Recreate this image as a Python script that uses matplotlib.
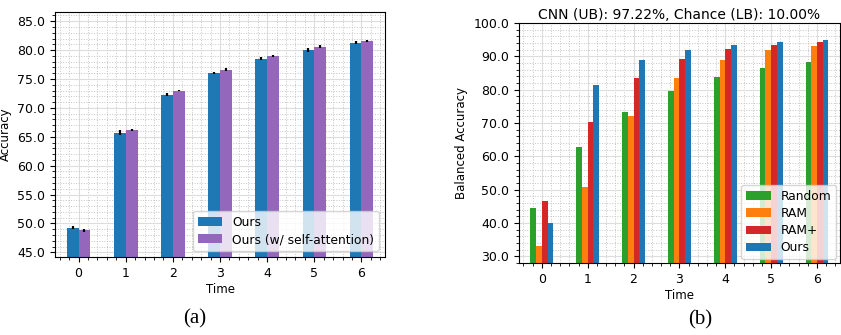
import matplotlib
matplotlib.use('Agg')
import matplotlib.pyplot as plt
import numpy as np
from matplotlib.ticker import MultipleLocator

plt.rcParams['font.family'] = 'DejaVu Sans'

# (a) data
times = [0, 1, 2, 3, 4, 5, 6]
acc_ours = [49.3, 65.7, 72.3, 76.1, 78.5, 80.1, 81.3]
acc_ours_err = [0.3, 0.4, 0.2, 0.2, 0.25, 0.35, 0.25]
acc_attn = [48.8, 66.2, 73.0, 76.6, 79.0, 80.6, 81.6]
acc_attn_err = [0.25, 0.2, 0.15, 0.25, 0.2, 0.3, 0.2]

# (b) data
bal_random = [44.4, 62.7, 73.2, 79.5, 83.7, 86.4, 88.2]
bal_ram = [33.0, 50.7, 72.0, 83.4, 89.0, 91.8, 93.0]
bal_ramplus = [46.5, 70.2, 83.4, 89.1, 92.1, 93.3, 94.2]
bal_ours = [39.9, 81.3, 88.8, 91.8, 93.3, 94.2, 94.8]
title_b = 'CNN (UB): 97.22%, Chance (LB): 10.00%'

fig = plt.figure(figsize=(8.41, 3.35), dpi=100)
ax1 = fig.add_axes([0.0654, 0.2328, 0.3924, 0.7313])
ax2 = fig.add_axes([0.617, 0.2149, 0.3817, 0.7164])

x = np.array(times)

# ax1
w = 0.25
ax1.bar(x - w / 2, acc_ours, w, yerr=acc_ours_err, color='tab:blue', label='Ours',
        error_kw=dict(ecolor='black', elinewidth=1.6, capsize=0))
ax1.bar(x + w / 2, acc_attn, w, yerr=acc_attn_err, color='tab:purple', label='Ours (w/ self-attention)',
        error_kw=dict(ecolor='black', elinewidth=1.6, capsize=0))
ax1.set_ylim(44.2, 86.6)
ax1.set_ylabel('Accuracy', fontsize=8.5)
ax1.yaxis.set_major_locator(MultipleLocator(5))
ax1.yaxis.set_minor_locator(MultipleLocator(1))
ax1.legend(loc='lower right', fontsize=8.8, labelspacing=0.35)

# ax2
w2 = 0.125
ax2.bar(x - 1.5 * w2, bal_random, w2, color='tab:green', label='Random')
ax2.bar(x - 0.5 * w2, bal_ram, w2, color='tab:orange', label='RAM')
ax2.bar(x + 0.5 * w2, bal_ramplus, w2, color='tab:red', label='RAM+')
ax2.bar(x + 1.5 * w2, bal_ours, w2, color='tab:blue', label='Ours')
ax2.set_ylim(28, 100)
ax2.set_ylabel('Balanced Accuracy', fontsize=8.5)
ax2.set_title(title_b, fontsize=10, pad=3)
ax2.yaxis.set_major_locator(MultipleLocator(10))
ax2.yaxis.set_minor_locator(MultipleLocator(2))
ax2.legend(loc='lower right', fontsize=8.8, borderaxespad=0.3, labelspacing=0.35)

for ax in (ax1, ax2):
    ax.set_xlim(-0.5, 6.5)
    ax.set_xticks(times)
    ax.xaxis.set_minor_locator(MultipleLocator(0.2))
    ax.set_xlabel('Time', fontsize=8.5, labelpad=2)
    ax.yaxis.set_major_formatter(matplotlib.ticker.FormatStrFormatter('%.1f'))
    ax.tick_params(labelsize=9)
    ax.grid(True, which='major', color='#dddddd', linestyle='-', linewidth=0.8)
    ax.grid(True, which='minor', color='#c4c4c4', linestyle=':', linewidth=0.7)
    ax.set_axisbelow(True)

fig.text(0.232, 0.035, '(a)', fontsize=15, family='Liberation Serif', ha='center')
fig.text(0.833, 0.03, '(b)', fontsize=15, family='Liberation Serif', ha='center')

plt.savefig('out.png', dpi=100)
